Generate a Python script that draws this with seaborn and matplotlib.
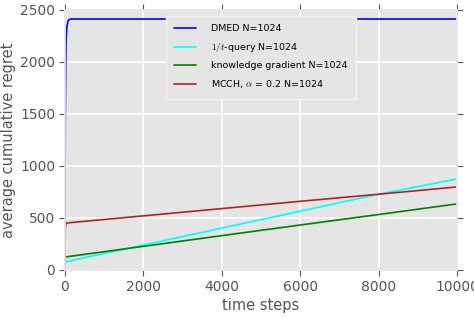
import numpy as np
import pandas as pd
import matplotlib
matplotlib.use("Agg")
import matplotlib.pyplot as plt
import seaborn as sns

# values
t_dmed = [0, 5, 10, 20, 30, 50, 80, 120, 200, 10000]
dmed = [0, 900, 1500, 2000, 2220, 2340, 2395, 2410, 2412, 2412]

t_query = [0, 10, 2000, 4000, 6000, 8000, 10000]
query = [0, 78, 240, 402, 565, 728, 875]

t_kg = [0, 10, 2000, 4000, 6000, 8000, 10000]
kg = [0, 125, 227, 330, 432, 533, 635]

t_mcch = [0, 5, 10, 20, 50, 2000, 4000, 6000, 8000, 10000]
mcch = [0, 300, 400, 440, 452, 520, 590, 660, 728, 798]

labels = ["DMED N=1024", r"$1/t$-query N=1024",
          "knowledge gradient N=1024", r"MCCH, $\alpha$ = 0.2 N=1024"]
colors = ["#0000FF", "#00FFFF", "#008000", "#B22222"]

sns.set_theme(style="darkgrid", rc={
    "axes.facecolor": "#E5E5E5",
    "grid.color": "white",
    "grid.linewidth": 1.2,
    "axes.edgecolor": "#E5E5E5",
    "text.color": "#555555",
    "axes.labelcolor": "#555555",
    "xtick.color": "#555555",
    "ytick.color": "#555555",
    "mathtext.fontset": "cm",
})
plt.rcParams["font.family"] = ["DejaVu Sans"]

fig = plt.figure(figsize=(4.74, 3.18), dpi=100)
ax = fig.add_axes([0.137, 0.151, 0.827, 0.818])

series = [(t_dmed, dmed), (t_query, query), (t_kg, kg), (t_mcch, mcch)]
for (t, v), lab, c in zip(series, labels, colors):
    sns.lineplot(x=t, y=v, label=lab, color=c, linewidth=1.2, ax=ax)

ax.set_xlim(0, 10000)
ax.set_ylim(0, 2500)
ax.set_yticks([0, 500, 1000, 1500, 2000, 2500])
ax.set_xticks([0, 2000, 4000, 6000, 8000, 10000])
ax.tick_params(axis="both", which="both", direction="out", length=4, width=0.8,
               top=True, right=True, bottom=True, left=True, labelsize=10, pad=3)
ax.set_xlabel("time steps", fontsize=10.5, labelpad=3)
ax.set_ylabel("average cumulative regret", fontsize=10.5, labelpad=3)

leg = ax.legend(loc="upper center", fontsize=6.8, handlelength=2.3, handletextpad=1.6,
                labelspacing=0.8, borderpad=0.9, frameon=True, fancybox=False,
                bbox_to_anchor=(0.5, 0.995))
leg.get_frame().set_facecolor("#E5E5E5")
leg.get_frame().set_edgecolor("#F2F2F2")
leg.get_frame().set_linewidth(1.0)
leg.get_frame().set_alpha(1.0)
for txt in leg.get_texts():
    txt.set_color("black")

fig.savefig("out.png", dpi=100)
